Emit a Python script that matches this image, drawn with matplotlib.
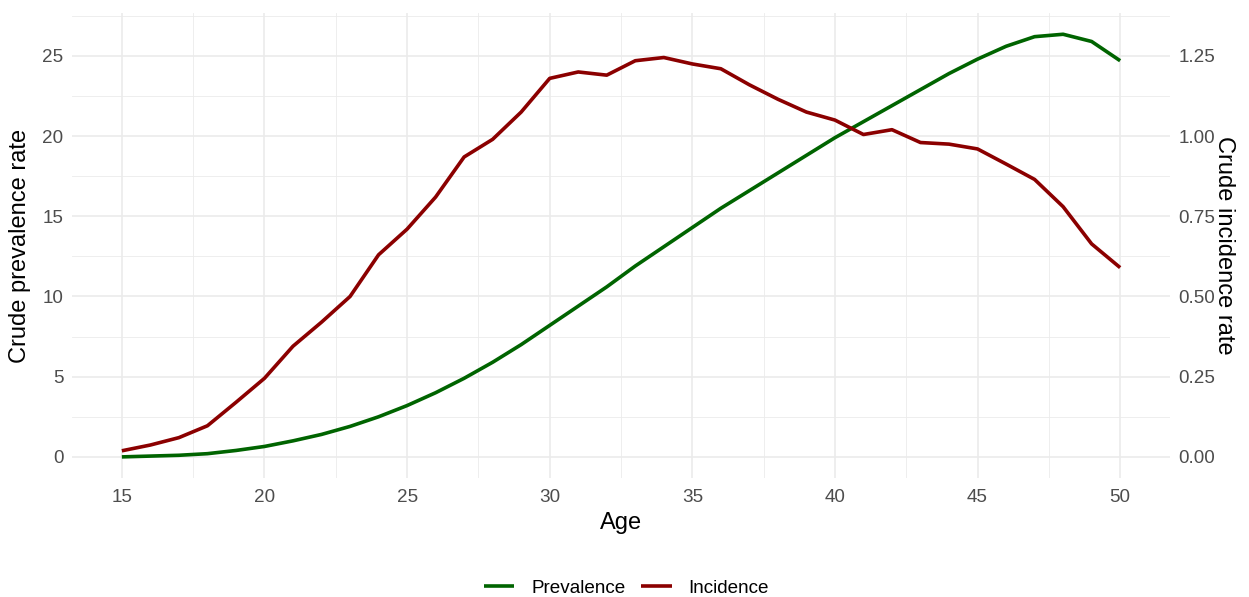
import numpy as np
import matplotlib
matplotlib.use("Agg")
import matplotlib.pyplot as plt
from matplotlib.ticker import MultipleLocator, FormatStrFormatter

plt.rcParams['font.family'] = ['Liberation Sans', 'DejaVu Sans']

# data
age = list(range(15, 51))
prevalence = [0.0, 0.05, 0.1, 0.2, 0.4, 0.65, 1.0, 1.4, 1.9, 2.5,
              3.2, 4.0, 4.9, 5.9, 7.0, 8.2, 9.4, 10.6, 11.9, 13.1,
              14.3, 15.5, 16.6, 17.7, 18.8, 19.9, 20.9, 21.9, 22.9, 23.9,
              24.8, 25.6, 26.2, 26.35, 25.9, 24.7]
incidence = [0.019, 0.037, 0.06, 0.097, 0.17, 0.245, 0.345, 0.42, 0.50, 0.63,
             0.71, 0.81, 0.935, 0.99, 1.075, 1.18, 1.2, 1.19, 1.235, 1.245,
             1.225, 1.21, 1.16, 1.115, 1.075, 1.05, 1.005, 1.02, 0.98, 0.975,
             0.96, 0.913, 0.865, 0.78, 0.664, 0.59]
scale = 20  # secondary axis factor

green = '#006400'
red = '#8B0000'
grid_col = '#EBEBEB'
tick_col = '#4D4D4D'

fig = plt.figure(figsize=(12.49, 5.97), dpi=100)
ax = fig.add_axes([0.0576, 0.1993, 0.8792, 0.7787])
ax2 = ax.twinx()

ymax = max(max(prevalence), max(np.array(incidence) * scale))
pad = ymax * 0.05
ax.set_ylim(-pad, ymax + pad)
ax2.set_ylim(-pad / scale, (ymax + pad) / scale)
ax.set_xlim(15 - 1.75, 50 + 1.75)

l1, = ax.plot(age, prevalence, color=green, lw=2.6, solid_capstyle='butt', zorder=3)
l2, = ax2.plot(age, incidence, color=red, lw=2.6, solid_capstyle='butt', zorder=3)

ax.xaxis.set_major_locator(MultipleLocator(5))
ax.xaxis.set_minor_locator(MultipleLocator(2.5))
ax.yaxis.set_major_locator(MultipleLocator(5))
ax.yaxis.set_minor_locator(MultipleLocator(2.5))
ax2.yaxis.set_major_locator(MultipleLocator(0.25))
ax2.yaxis.set_major_formatter(FormatStrFormatter('%.2f'))

ax.grid(True, which='major', color=grid_col, lw=1.2)
ax.grid(True, which='minor', color=grid_col, lw=0.6)
ax.set_axisbelow(True)

for a in (ax, ax2):
    for s in a.spines.values():
        s.set_visible(False)
    a.tick_params(which='both', length=0, labelsize=13.6, labelcolor=tick_col)
ax.tick_params(axis='x', pad=8)
ax.tick_params(axis='y', pad=6)
ax2.tick_params(axis='y', pad=6)

ax.set_xlabel('Age', fontsize=17, labelpad=4)
ax.set_ylabel('Crude prevalence rate', fontsize=17, labelpad=8)
ax2.set_ylabel('Crude incidence rate', fontsize=17, rotation=270, labelpad=14)

fig.legend([l1, l2], ['Prevalence', 'Incidence'], loc='center',
           bbox_to_anchor=(0.5016, 0.015), ncol=2, frameon=False,
           fontsize=13.6, handlelength=1.6, columnspacing=0.85,
           handletextpad=0.9)

fig.savefig('out.png', dpi=100, facecolor='white')
